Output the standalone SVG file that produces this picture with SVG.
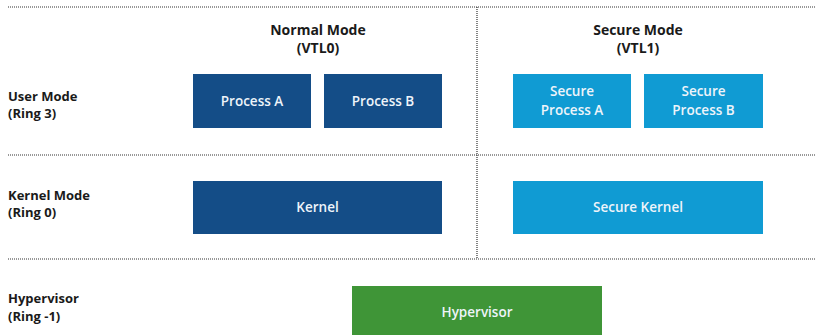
<svg xmlns="http://www.w3.org/2000/svg" width="816" height="335" viewBox="0 0 816 335">
  <style>
    .sep { stroke: #333; stroke-width: 1.2; stroke-dasharray: 1 1; fill: none; }
    .lbl { font-family: "Open Sans", "Liberation Sans", sans-serif; font-weight: bold; font-size: 13px; fill: #1a1a1a; }
    .hdr { font-family: "Open Sans", "Liberation Sans", sans-serif; font-weight: bold; font-size: 14px; fill: #1a1a1a; text-anchor: middle; }
    .box-text { font-family: "Open Sans", "Liberation Sans", sans-serif; font-weight: 600; font-size: 13.5px; fill: #eef4fa; text-anchor: middle; }
    .normal { fill: #144d87; }
    .secure { fill: #109bd3; }
    .hyper { fill: #3f9537; }
  </style>
  <rect width="816" height="335" fill="#ffffff"/>

  <!-- dotted partition lines -->
  <g id="separators">
    <line class="sep" x1="8" y1="7" x2="816" y2="7"/>
    <line class="sep" x1="8" y1="155" x2="816" y2="155"/>
    <line class="sep" x1="8" y1="259" x2="816" y2="259"/>
    <line class="sep" x1="477" y1="7" x2="477" y2="259"/>
  </g>

  <!-- column headings -->
  <g id="header-normal">
    <text class="hdr" x="318" y="35">Normal Mode</text>
    <text class="hdr" x="318" y="53">(VTL0)</text>
  </g>
  <g id="header-secure">
    <text class="hdr" x="638" y="35">Secure Mode</text>
    <text class="hdr" x="638" y="53">(VTL1)</text>
  </g>

  <!-- row labels -->
  <g id="label-user">
    <text class="lbl" x="8" y="101">User Mode</text>
    <text class="lbl" x="8" y="118">(Ring 3)</text>
  </g>
  <g id="label-kernel">
    <text class="lbl" x="8" y="200">Kernel Mode</text>
    <text class="lbl" x="8" y="217">(Ring 0)</text>
  </g>
  <g id="label-hypervisor">
    <text class="lbl" x="8" y="303">Hypervisor</text>
    <text class="lbl" x="8" y="321">(Ring -1)</text>
  </g>

  <!-- normal mode components -->
  <g id="process-a">
    <rect class="normal" x="193" y="74" width="118" height="54"/>
    <text class="box-text" x="252" y="106">Process A</text>
  </g>
  <g id="process-b">
    <rect class="normal" x="324" y="74" width="118" height="54"/>
    <text class="box-text" x="383" y="106">Process B</text>
  </g>
  <g id="kernel">
    <rect class="normal" x="193" y="181" width="249" height="53"/>
    <text class="box-text" x="317.5" y="212">Kernel</text>
  </g>

  <!-- secure mode components -->
  <g id="secure-process-a">
    <rect class="secure" x="513" y="74" width="118" height="54"/>
    <text class="box-text" x="572" y="96">Secure</text>
    <text class="box-text" x="572" y="115">Process A</text>
  </g>
  <g id="secure-process-b">
    <rect class="secure" x="644" y="74" width="119" height="54"/>
    <text class="box-text" x="703.5" y="96">Secure</text>
    <text class="box-text" x="703.5" y="115">Process B</text>
  </g>
  <g id="secure-kernel">
    <rect class="secure" x="513" y="181" width="250" height="53"/>
    <text class="box-text" x="638" y="212">Secure Kernel</text>
  </g>

  <!-- hypervisor -->
  <g id="hypervisor">
    <rect class="hyper" x="352" y="286" width="250" height="49"/>
    <text class="box-text" x="477" y="317">Hypervisor</text>
  </g>
</svg>
